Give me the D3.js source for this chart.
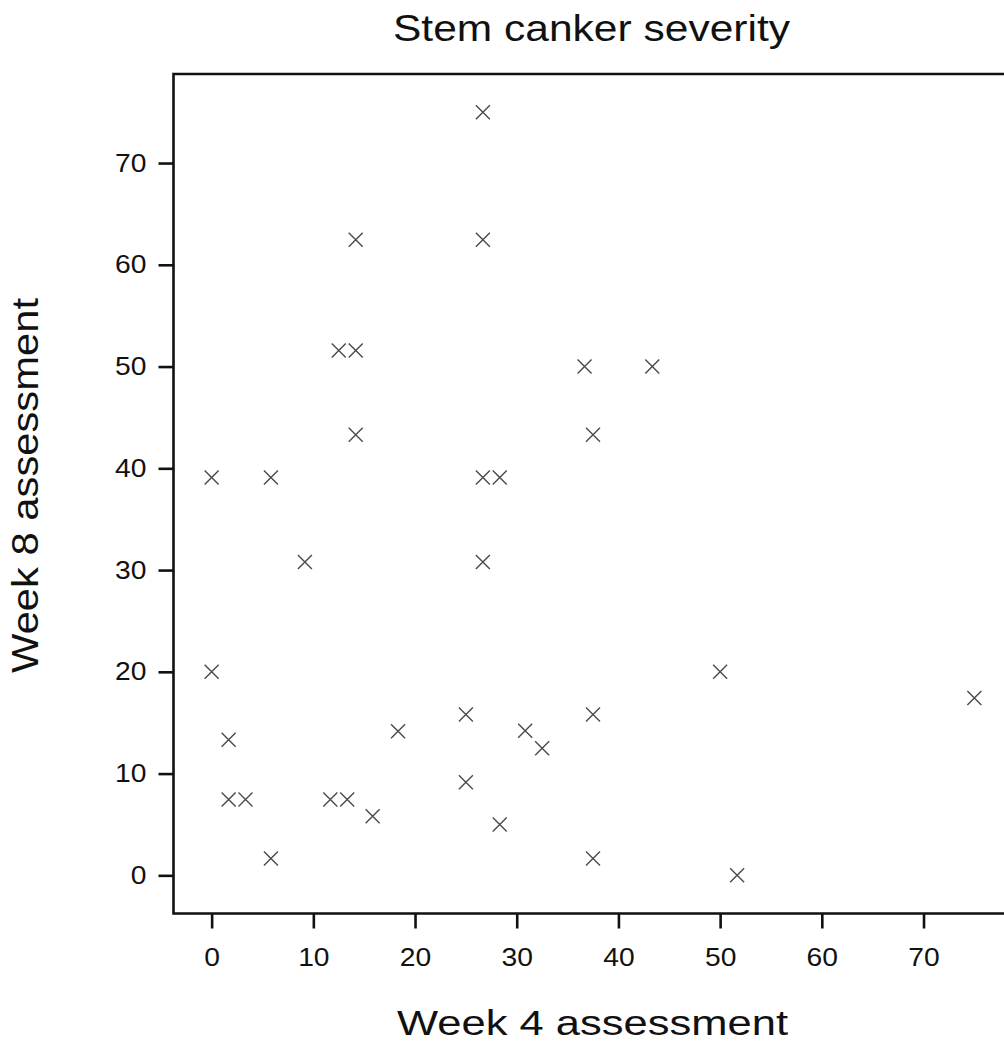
<!DOCTYPE html>
<html>
<head>
<meta charset="utf-8">
<script src="https://cdn.jsdelivr.net/npm/d3@7"></script>
<style>
  body { margin: 0; background: #fff; }
  svg { display: block; }
  text { font-family: "Liberation Sans", Arial, sans-serif; fill: #111; }
</style>
</head>
<body>
<svg id="chart" width="1004" height="1046"></svg>
<script>
// scores
var week4 = [26.67, 26.67, 14.17, 12.5, 14.17, 36.67, 43.33, 14.17, 37.5, 0,
             5.83, 26.67, 28.33, 9.17, 26.67, 0, 50, 75, 1.67, 25,
             37.5, 18.33, 30.83, 32.5, 25, 1.67, 3.33, 11.67, 13.33, 15.83,
             28.33, 5.83, 37.5, 51.67];
var week8 = [75, 62.45, 62.45, 51.57, 51.57, 50, 50, 43.3, 43.3, 39.1,
             39.1, 39.1, 39.1, 30.8, 30.8, 20, 20, 17.43, 13.33, 15.8,
             15.8, 14.15, 14.2, 12.5, 9.15, 7.45, 7.45, 7.45, 7.45, 5.8,
             5.0, 1.65, 1.65, 0];
var tickValues = [0, 10, 20, 30, 40, 50, 60, 70];
var titleText = "Stem canker severity";
var xTitle = "Week 4 assessment";
var yTitle = "Week 8 assessment";

var svg = d3.select("#chart");
var plotLeft = 173.5, plotTop = 74, plotW = 839, plotH = 839.5;

var x = d3.scaleLinear().domain([-3.75, 78.75]).range([plotLeft, plotLeft + plotW]);
var y = d3.scaleLinear().domain([-3.75, 78.75]).range([plotTop + plotH, plotTop]);

// stretch text wider, the original font runs wide
function widen(sel, k) {
    sel.each(function () {
        var w = this.getComputedTextLength();
        d3.select(this).attr("textLength", w * k).attr("lengthAdjust", "spacingAndGlyphs");
    });
}

// x axis
var gx = svg.append("g")
    .attr("transform", "translate(0," + (plotTop + plotH) + ")")
    .call(d3.axisBottom(x).tickValues(tickValues).tickSize(15).tickPadding(20));
gx.select(".domain").remove();
gx.selectAll(".tick line").attr("stroke", "#111").attr("stroke-width", 2.6);
gx.selectAll(".tick text").style("font-size", "25px").attr("fill", "#111");
widen(gx.selectAll(".tick text"), 1.13);

// y axis
var gy = svg.append("g")
    .attr("transform", "translate(" + plotLeft + ",0)")
    .call(d3.axisLeft(y).tickValues(tickValues).tickSize(15).tickPadding(12));
gy.select(".domain").remove();
gy.selectAll(".tick line").attr("stroke", "#111").attr("stroke-width", 2.6);
gy.selectAll(".tick text").style("font-size", "25px").attr("fill", "#111");
widen(gy.selectAll(".tick text"), 1.13);

// frame: left, top, bottom (right side runs past the picture)
svg.append("path")
    .attr("d", "M" + (plotLeft + plotW + 10) + "," + plotTop + "H" + plotLeft + "V" + (plotTop + plotH) + "H" + (plotLeft + plotW + 10))
    .attr("fill", "none")
    .attr("stroke", "#111")
    .attr("stroke-width", 2.6);

// crosses
var s = 7;
svg.append("g").selectAll("path")
    .data(week4)
    .join("path")
    .attr("d", function (d, i) {
        var cx = x(d), cy = y(week8[i]);
        return "M" + (cx - s) + "," + (cy - s) + "L" + (cx + s) + "," + (cy + s) +
               "M" + (cx - s) + "," + (cy + s) + "L" + (cx + s) + "," + (cy - s);
    })
    .attr("stroke", "#4a4a4a")
    .attr("stroke-width", 1.4)
    .attr("fill", "none");

// titles
svg.append("text")
    .attr("x", 591.5).attr("y", 41)
    .attr("text-anchor", "middle")
    .style("font-size", "36px")
    .attr("textLength", 397).attr("lengthAdjust", "spacingAndGlyphs")
    .text(titleText);

svg.append("text")
    .attr("x", 592.5).attr("y", 1035)
    .attr("text-anchor", "middle")
    .style("font-size", "35px")
    .attr("textLength", 391).attr("lengthAdjust", "spacingAndGlyphs")
    .text(xTitle);

svg.append("text")
    .attr("transform", "translate(38,485.5) rotate(-90)")
    .attr("text-anchor", "middle")
    .style("font-size", "36px")
    .attr("textLength", 375).attr("lengthAdjust", "spacingAndGlyphs")
    .text(yTitle);
</script>
</body>
</html>
